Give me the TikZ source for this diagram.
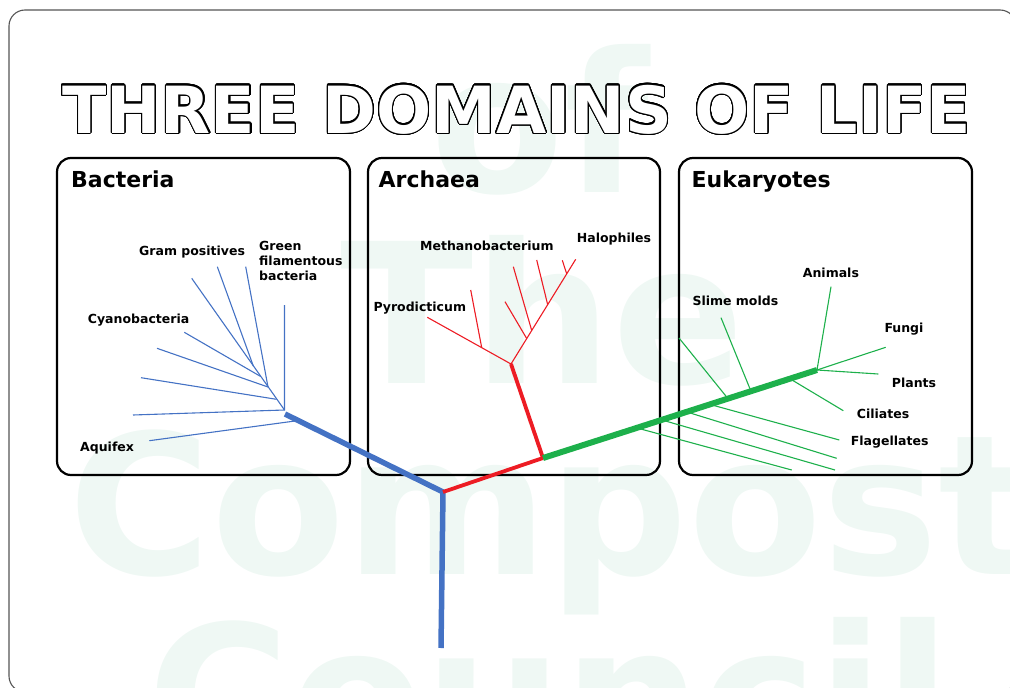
\documentclass[tikz,border=0pt]{standalone}
\usepackage{fontspec}
\setmainfont{DejaVu Sans}
\usepackage{contour}
\contourlength{1.1pt}
\contournumber{32}
\usetikzlibrary{calc}
\definecolor{cblue}{HTML}{4472C4}
\definecolor{cred}{HTML}{ED1C24}
\definecolor{cgreen}{HTML}{1DB04B}
\definecolor{wmgreen}{HTML}{EFF8F4}
\definecolor{framegray}{HTML}{555555}
\tikzset{
  wm/.style={anchor=base west, inner sep=0pt, text=wmgreen, font=\bfseries\fontsize{195}{195}\selectfont},
  frame/.style={draw=framegray, line width=1.1pt, rounded corners=16pt},
  dombox/.style={draw=black, line width=2.2pt, rounded corners=14pt, inner sep=0pt},
  domtitle/.style={anchor=base west, inner sep=0pt, font=\bfseries\fontsize{22}{26}\selectfont},
  lab/.style={anchor=base west, inner sep=0pt, font=\bfseries\fontsize{12.5}{15}\selectfont},
  thickb/.style={draw=cblue, line width=5.5pt},
  thinb/.style={draw=cblue, line width=1.1pt},
  thickr/.style={draw=cred, line width=3.8pt},
  thinr/.style={draw=cred, line width=1.1pt},
  thickg/.style={draw=cgreen, line width=6pt},
  thing/.style={draw=cgreen, line width=1.1pt},
}
\begin{document}
\begin{tikzpicture}[x=1pt,y=-1pt]
\useasboundingbox (0,0) rectangle (1010,688);
% watermark
\node[wm] (wmof) at (430,192) {of};
\node[wm] (wmthe) at (340,383) {The};
\node[wm] (wmcompost) at (68,574) {Compost};
\node[wm] (wmcouncil) at (147,765) {Council};
% frame
\draw[frame] (9,10) rectangle (1016,692);
% title
\node[anchor=base west, inner sep=0pt, font=\bfseries\fontsize{65}{65}\selectfont] (title) at (62,133)
  {\contour{black}{\textcolor{white}{THREE DOMAINS OF LIFE}}};
% domain boxes
\node[dombox, minimum width=293pt, minimum height=317pt] (bacbox) at (203.5,316.5) {};
\node[dombox, minimum width=292pt, minimum height=317pt] (arcbox) at (514,316.5) {};
\node[dombox, minimum width=293pt, minimum height=317pt] (eukbox) at (825.5,316.5) {};
\node[domtitle] (bactitle) at (71,187.5) {Bacteria};
\node[domtitle] (arctitle) at (378.5,187.5) {Archaea};
\node[domtitle] (euktitle) at (691.5,187.5) {Eukaryotes};
% main tree
\coordinate (root) at (441,648);
\coordinate (luca) at (443,492);
\coordinate (bj) at (285,414);
\coordinate (aj) at (543,458);
\coordinate (aj2) at (511,364);
\coordinate (ej) at (817,370);
\draw[thickb] (root) -- (luca) -- (bj);
\draw[thickr] (luca) -- (aj);
\draw[thickr] (aj) -- (aj2);
\draw[thickg] (aj) -- (ej);
% bacteria branches
\coordinate (b0) at (284.5,410);
\coordinate (bV) at (284.5,305);
\coordinate (bH) at (133,415);
\coordinate (bAq) at (149.3,440.7);
\coordinate (bAj) at (295,421);
\coordinate (bS) at (191.7,278.3);
\coordinate (s1) at (276.5,399.3);
\coordinate (s2) at (268,387);
\coordinate (s3) at (260.7,376.5);
\coordinate (s4) at (253.3,366);
\coordinate (e1) at (141,377.7);
\coordinate (e2) at (157,348.3);
\coordinate (e3) at (184.3,332.3);
\coordinate (e4) at (217.3,266.7);
\coordinate (e5) at (245.7,266.7);
\draw[thinb] (bV) -- (b0) -- (bH);
\draw[thinb] (bAj) -- (bAq);
\draw[thinb] (b0) -- (bS);
\draw[thinb] (s1) -- (e1);
\draw[thinb] (s2) -- (e2);
\draw[thinb] (s3) -- (e3);
\draw[thinb] (s4) -- (e4);
\draw[thinb] (s2) -- (e5);
% archaea branches
\coordinate (aP) at (427.3,317.3);
\coordinate (aH) at (575.7,259.3);
\draw[thinr] (aP) -- (aj2) -- (aH);
\coordinate (ap1) at (481.7,347.6);
\coordinate (ae1) at (470.7,290);
\draw[thinr] (ap1) -- (ae1);
\coordinate (ah1) at ($(aj2)!0.243!(aH)$);
\coordinate (ah2) at ($(aj2)!0.32!(aH)$);
\coordinate (ah3) at ($(aj2)!0.567!(aH)$);
\coordinate (ah4) at ($(aj2)!0.861!(aH)$);
\coordinate (ae2) at (505,301.7);
\coordinate (ae3) at (513.3,266.7);
\coordinate (ae4) at (536.7,260);
\coordinate (ae5) at (562.3,260.3);
\draw[thinr] (ah1) -- (ae2);
\draw[thinr] (ah2) -- (ae3);
\draw[thinr] (ah3) -- (ae4);
\draw[thinr] (ah4) -- (ae5);
% eukaryote branches
\coordinate (g1) at ($(aj)!0.342!(ej)$);
\coordinate (g2) at ($(aj)!0.433!(ej)$);
\coordinate (g3) at ($(aj)!0.524!(ej)$);
\coordinate (g4) at ($(aj)!0.609!(ej)$);
\coordinate (g5) at ($(aj)!0.675!(ej)$);
\coordinate (g6) at ($(aj)!0.759!(ej)$);
\coordinate (g7) at ($(aj)!0.901!(ej)$);
\coordinate (f1) at (791.7,470);
\coordinate (f2) at (835,470);
\coordinate (f3) at (836.7,458.3);
\coordinate (f4) at (839.3,440);
\coordinate (u1) at (679,338);
\coordinate (u2) at (721,317.7);
\coordinate (ci) at (843.3,410.7);
\coordinate (an) at (831,286.7);
\coordinate (fu) at (885.7,347.3);
\coordinate (pl) at (878.3,374);
\draw[thing] (g1) -- (f1);
\draw[thing] (g2) -- (f2);
\draw[thing] (g3) -- (f3);
\draw[thing] (g4) -- (f4);
\draw[thing] (g5) -- (u1);
\draw[thing] (g6) -- (u2);
\draw[thing] (g7) -- (ci);
\draw[thing] (ej) -- (an);
\draw[thing] (ej) -- (fu);
\draw[thing] (ej) -- (pl);
% labels
\node[lab] (lgram) at (139,255.5) {Gram positives};
\node[lab, anchor=north west, align=left] (lgreen) at (259,241.2) {Green\\filamentous\\bacteria};
\node[lab] (lcyano) at (87.7,323.3) {Cyanobacteria};
\node[lab] (laqui) at (80,451) {Aquifex};
\node[lab] (lmeth) at (420,250) {Methanobacterium};
\node[lab] (lhalo) at (576.7,242.3) {Halophiles};
\node[lab] (lpyro) at (373.3,311.7) {Pyrodicticum};
\node[lab] (lanim) at (802.7,277.7) {Animals};
\node[lab] (lslime) at (692.3,305.7) {Slime molds};
\node[lab] (lfungi) at (884.3,332.3) {Fungi};
\node[lab] (lplant) at (891.7,387) {Plants};
\node[lab] (lcili) at (856.7,418.3) {Ciliates};
\node[lab] (lflag) at (850.7,445.7) {Flagellates};
\end{tikzpicture}
\end{document}
